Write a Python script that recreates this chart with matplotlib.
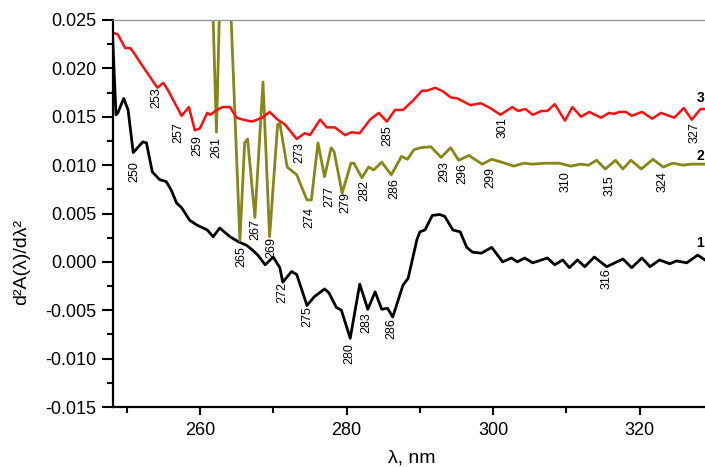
import numpy as np
import matplotlib.pyplot as plt

plt.rcParams['font.family'] = ['Liberation Sans', 'DejaVu Sans']
plt.rcParams['axes.unicode_minus'] = False

# curve 1 (black)
wl_1 = [248.1, 248.55, 248.8, 249.6, 250.2, 250.9, 252.2, 252.7, 253.5, 254.5,
        255.4, 256.1, 256.8, 257.5, 258.6, 259.6, 261.0, 261.8, 262.7, 264.1,
        265.2, 266.4, 267.2, 267.9, 268.9, 270.0, 270.9, 271.3, 272.5, 273.2,
        274.6, 275.6, 277.0, 277.6, 278.6, 279.3, 280.5, 281.8, 282.9, 283.9,
        284.8, 285.6, 286.3, 287.7, 288.4, 289.6, 290.0, 290.7, 291.7, 292.7,
        293.4, 294.5, 295.5, 296.4, 297.2, 298.4, 299.8, 301.3, 302.5, 303.3,
        304.3, 305.4, 307.4, 308.4, 309.5, 310.4, 311.5, 312.5, 313.8, 315.5,
        316.6, 317.7, 318.9, 320.3, 321.4, 322.7, 324.1, 325.0, 326.4, 327.9, 328.9]
d2a_1 = [0.0231, 0.0152, 0.0154, 0.0169, 0.0157, 0.0113, 0.0124, 0.0123, 0.0093, 0.0085,
         0.0083, 0.0074, 0.0061, 0.0056, 0.0043, 0.0038, 0.0033, 0.0026, 0.0035, 0.0026,
         0.0021, 0.0017, 0.0012, 0.0007, -0.0003, 0.0005, -0.0006, -0.0021, -0.0010, -0.0013,
         -0.0045, -0.0036, -0.0028, -0.0032, -0.0047, -0.0050, -0.0079, -0.0023, -0.0049, -0.0031,
         -0.0049, -0.0048, -0.0057, -0.0024, -0.0017, 0.0023, 0.0031, 0.0033, 0.0048, 0.0049,
         0.0047, 0.0033, 0.0031, 0.0015, 0.0010, 0.0009, 0.0015, 0.0000, 0.0004, 0.0000,
         0.0004, -0.0001, 0.0004, -0.0003, 0.0002, -0.0006, 0.0002, -0.0005, 0.0005, -0.0005,
         -0.0001, 0.0003, -0.0006, 0.0004, -0.0005, 0.0002, -0.0002, 0.0001, -0.0001, 0.0007, 0.0002]

# curve 2 (olive)
wl_2 = [261.5, 262.25, 262.9, 263.6, 264.0, 265.45, 266.1, 266.5, 267.5, 268.6,
        269.5, 270.6, 270.9, 271.9, 273.2, 274.6, 275.2, 276.1, 277.0, 277.9,
        278.3, 279.4, 280.6, 281.0, 282.1, 283.0, 283.7, 284.8, 286.1, 287.5,
        288.3, 289.2, 290.1, 291.5, 292.9, 294.2, 295.3, 296.7, 298.5, 299.8,
        301.2, 302.8, 304.2, 305.3, 307.2, 309.0, 310.6, 311.9, 313.0, 314.1,
        315.3, 316.7, 317.7, 318.8, 320.2, 321.8, 323.2, 324.5, 325.9, 327.0, 328.9]
d2a_2 = [0.033, 0.0134, 0.033, 0.040, 0.030, 0.0022, 0.0123, 0.0127, 0.0046, 0.0186,
         0.0026, 0.0142, 0.0143, 0.0098, 0.0090, 0.0064, 0.0064, 0.0123, 0.0088, 0.0118,
         0.0114, 0.0071, 0.0102, 0.0102, 0.0087, 0.0098, 0.0095, 0.0103, 0.0090, 0.0109,
         0.0106, 0.0116, 0.0118, 0.0119, 0.0108, 0.0118, 0.0105, 0.0110, 0.0101, 0.0106,
         0.0103, 0.0099, 0.0102, 0.0101, 0.0102, 0.0102, 0.0099, 0.0101, 0.0100, 0.0105,
         0.0096, 0.0105, 0.0096, 0.0105, 0.0096, 0.0106, 0.0098, 0.0102, 0.0100, 0.0101, 0.0101]

# curve 3 (red)
wl_3 = [248.1, 248.8, 249.8, 250.5, 250.9, 252.3, 253.2, 254.2, 255.0, 255.6,
        257.5, 258.5, 259.3, 260.0, 261.0, 261.4, 262.3, 263.1, 264.1, 265.0,
        265.9, 267.1, 268.5, 269.5, 270.6, 271.6, 273.2, 274.3, 275.0, 276.4,
        277.3, 278.4, 279.8, 280.7, 281.8, 283.2, 284.4, 285.5, 286.6, 287.7,
        289.1, 290.3, 291.0, 292.1, 293.2, 294.2, 295.1, 296.9, 298.3, 299.6,
        301.0, 302.6, 303.4, 304.4, 305.4, 306.6, 307.4, 308.4, 309.8, 310.8,
        312.0, 313.1, 314.7, 315.8, 316.5, 317.2, 318.1, 318.9, 320.3, 321.7,
        322.9, 324.7, 326.0, 327.1, 328.3, 328.9]
d2a_3 = [0.0237, 0.0235, 0.0221, 0.0221, 0.0217, 0.0201, 0.0191, 0.0180, 0.0185, 0.0178,
         0.0151, 0.0160, 0.0136, 0.0138, 0.0154, 0.0152, 0.0157, 0.0160, 0.0160, 0.0149,
         0.0147, 0.0145, 0.0149, 0.0155, 0.0147, 0.0142, 0.0127, 0.0133, 0.0131, 0.0147,
         0.0139, 0.0139, 0.0131, 0.0134, 0.0133, 0.0147, 0.0154, 0.0145, 0.0157, 0.0157,
         0.0167, 0.0177, 0.0177, 0.0180, 0.0176, 0.0170, 0.0169, 0.0162, 0.0164, 0.0159,
         0.0152, 0.0160, 0.0156, 0.0158, 0.0152, 0.0156, 0.0156, 0.0163, 0.0146, 0.0160,
         0.0150, 0.0155, 0.0149, 0.0154, 0.0153, 0.0155, 0.0155, 0.0151, 0.0155, 0.0148,
         0.0154, 0.0149, 0.0159, 0.0147, 0.0158, 0.0158]

# peak labels: text, wavelength, value (label centre)
peak_text = ['250', '265', '267', '269', '272', '275', '280', '283', '286', '316',
             '261', '274', '277', '279', '282', '286', '293', '296', '299', '310', '315', '324',
             '253', '257', '259', '273', '285', '301', '327']
peak_x = [251.0, 265.7, 267.6, 269.8, 271.2, 274.6, 280.4, 282.7, 286.1, 315.5,
          262.3, 274.9, 277.7, 279.9, 282.4, 286.5, 293.3, 295.8, 299.6, 309.9, 315.9, 323.1,
          254.1, 257.1, 259.6, 273.6, 285.5, 301.3, 327.5]
peak_y = [0.0093, 0.0005, 0.0033, 0.0015, -0.0032, -0.0057, -0.0095, -0.0063, -0.0069, -0.0017,
          0.0118, 0.0046, 0.0068, 0.0061, 0.0074, 0.0076, 0.0093, 0.0091, 0.0087, 0.0083, 0.0079, 0.0083,
          0.0170, 0.0134, 0.0120, 0.0113, 0.0131, 0.0139, 0.0134]

curve_names = ['1', '2', '3']
curve_name_y = [0.0020, 0.0109, 0.0169]

fig = plt.figure(figsize=(7.05, 4.67), dpi=100)
ax = fig.add_axes([113 / 705, 1 - 407 / 467, 1 - 113 / 705, (407 - 20) / 467])

ax.plot(wl_1, d2a_1, color='black', lw=2.0)
ax.plot(wl_2, d2a_2, color='#86861a', lw=2.0)
ax.plot(wl_3, d2a_3, color='#ff1010', lw=1.8)

for t, x, y in zip(peak_text, peak_x, peak_y):
    ax.text(x, y, t, rotation=90, ha='center', va='center', fontsize=9)

for t, y in zip(curve_names, curve_name_y):
    ax.text(327.75, y, t, ha='left', va='center', fontsize=10, fontweight='bold', clip_on=False)

ax.set_xlim(248.14, 328.9)
ax.set_ylim(-0.015, 0.025)
ax.set_xticks([260, 280, 300, 320])
ax.set_xticks([250, 270, 290, 310], minor=True)
ax.set_yticks(np.arange(-0.015, 0.0251, 0.005))
ax.set_yticks(np.arange(-0.0125, 0.025, 0.005), minor=True)
ax.yaxis.set_major_formatter(plt.FormatStrFormatter('%.3f'))

ax.spines['right'].set_visible(False)
ax.spines['top'].set_color('#999999')
ax.spines['top'].set_linewidth(1.0)
ax.spines['left'].set_linewidth(1.6)
ax.spines['bottom'].set_linewidth(1.6)
ax.tick_params(axis='both', which='major', direction='out', labelsize=13, width=1.5)
ax.tick_params(axis='y', which='major', length=8, pad=4)
ax.tick_params(axis='x', which='major', length=6, pad=5)
ax.tick_params(axis='both', which='minor', direction='out', length=4, width=1.5)

fig.text(22 / 705, 1 - 262 / 467, 'd²A(λ)/dλ²', rotation=90, ha='center', va='center', fontsize=14)
fig.text(412 / 705, 1 - 458 / 467, 'λ, nm', ha='center', va='center', fontsize=14)

fig.savefig('out.png', dpi=100)
